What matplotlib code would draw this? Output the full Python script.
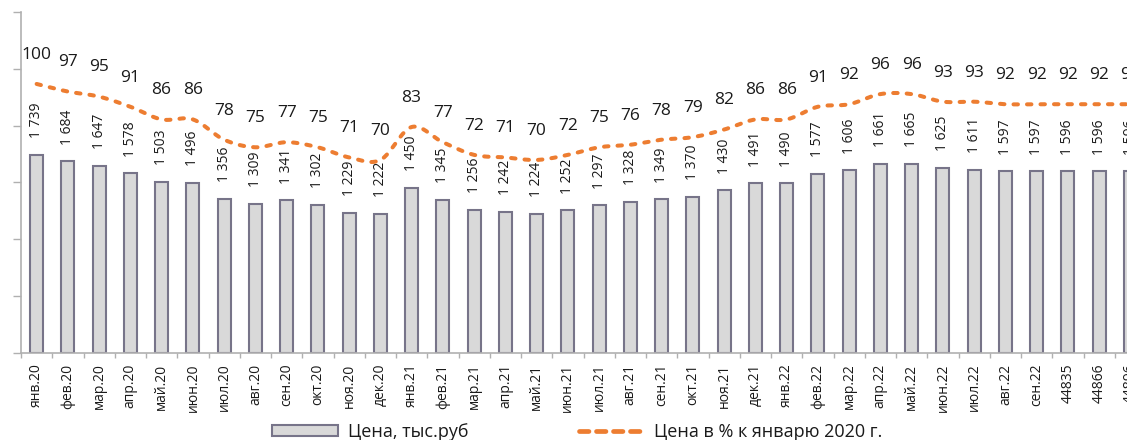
import numpy as np
import matplotlib
matplotlib.use("Agg")
import matplotlib.pyplot as plt
from matplotlib.lines import Line2D
from matplotlib.patches import Patch

plt.rcParams['font.family'] = ['Open Sans', 'DejaVu Sans']

# ---- data ----
months = ["янв.20", "фев.20", "мар.20", "апр.20", "май.20", "июн.20", "июл.20", "авг.20",
          "сен.20", "окт.20", "ноя.20", "дек.20", "янв.21", "фев.21", "мар.21", "апр.21",
          "май.21", "июн.21", "июл.21", "авг.21", "сен.21", "окт.21", "ноя.21", "дек.21",
          "янв.22", "фев.22", "мар.22", "апр.22", "май.22", "июн.22", "июл.22", "авг.22",
          "сен.22", "44835", "44866", "44896"]
price = [1739, 1684, 1647, 1578, 1503, 1496, 1356, 1309, 1341, 1302, 1229, 1222,
         1450, 1345, 1256, 1242, 1224, 1252, 1297, 1328, 1349, 1370, 1430, 1491,
         1490, 1577, 1606, 1661, 1665, 1625, 1611, 1597, 1597, 1596, 1596, 1596]
pct = [100, 97, 95, 91, 86, 86, 78, 75, 77, 75, 71, 70,
       83, 77, 72, 71, 70, 72, 75, 76, 78, 79, 82, 86,
       86, 91, 92, 96, 96, 93, 93, 92, 92, 92, 92, 92]
bar_label = "Цена, тыс.руб"
line_label = "Цена в % к январю 2020 г."

BAR_FILL = "#d9d9d9"
BAR_EDGE = "#777489"
ORANGE = "#ED7D31"
AXIS = "#b0b0b0"
TXT = "#1a1a1a"


def catmull_rom(x, y, n=24):
    pts = np.column_stack([x, y]).astype(float)
    P = np.vstack([2 * pts[0] - pts[1], pts, 2 * pts[-1] - pts[-2]])
    out = []
    t = np.linspace(0, 1, n, endpoint=False)[:, None]
    for i in range(1, len(P) - 2):
        p0, p1, p2, p3 = P[i - 1], P[i], P[i + 1], P[i + 2]
        seg = 0.5 * ((2 * p1) + (-p0 + p2) * t + (2 * p0 - 5 * p1 + 4 * p2 - p3) * t ** 2
                     + (-p0 + 3 * p1 - 3 * p2 + p3) * t ** 3)
        out.append(seg)
    out.append(P[-2][None, :])
    s = np.vstack(out)
    return s[:, 0], s[:, 1]


fig = plt.figure(figsize=(11.27, 4.40), dpi=100)
W, H = 1127, 440
ax = fig.add_axes([21 / W, (H - 352.5) / H, 1125 / W, 340.5 / H])

x = np.arange(len(months))
ax.bar(x, price, width=0.42, color=BAR_FILL, edgecolor=BAR_EDGE, linewidth=1.5, zorder=2)
ax.set_xlim(-0.5, len(months) - 0.5)
ax.set_ylim(0, 3000)
ax.set_yticks(np.arange(0, 3001, 500))
ax.set_yticklabels([])
ax.tick_params(axis='y', direction='out', length=6, width=1, color=AXIS)
ax.set_xticks(x)
ax.set_xticklabels(months, rotation=90, fontsize=10, color=TXT)
ax.tick_params(axis='x', which='major', length=0, pad=8)
ax.set_xticks(np.arange(-0.5, len(months) + 0.5, 1), minor=True)
ax.tick_params(axis='x', which='minor', direction='out', length=3.6, width=1, color=AXIS)
for s in ['top', 'right']:
    ax.spines[s].set_visible(False)
for s in ['left', 'bottom']:
    ax.spines[s].set_color(AXIS)
    ax.spines[s].set_linewidth(1.2)

for i, v in enumerate(price):
    ax.annotate(f"{v // 1000} {v % 1000:03d}", (i, v), xytext=(0, 12), textcoords='offset points',
                rotation=90, ha='center', va='bottom', fontsize=10, color=TXT, annotation_clip=False)

ax2 = ax.twinx()
ax2.set_ylim(-6, 128.4)
ax2.axis('off')
sx, sy = catmull_rom(x, pct)
ax2.plot(sx, sy, color=ORANGE, linewidth=2.9, dashes=(1.1, 2.25), dash_capstyle='round', zorder=3)
for i, v in enumerate(pct):
    ax2.annotate(str(v), (i, v), xytext=(0, 21), textcoords='offset points',
                 ha='center', va='center', fontsize=12.5, color=TXT, annotation_clip=False)

h1 = Patch(facecolor=BAR_FILL, edgecolor=BAR_EDGE, linewidth=1.5)
h2 = Line2D([0], [0], color=ORANGE, linewidth=3.4, dashes=(2.0, 1.6), dash_capstyle='round')
fig.legend([h1, h2], [bar_label, line_label], loc='center', bbox_to_anchor=(0.5124, 0.018),
           ncol=2, frameon=False, fontsize=13, handlelength=3.65, handleheight=0.6,
           handletextpad=0.55, columnspacing=6.1, labelcolor=TXT)

fig.savefig("out.png", dpi=100)
